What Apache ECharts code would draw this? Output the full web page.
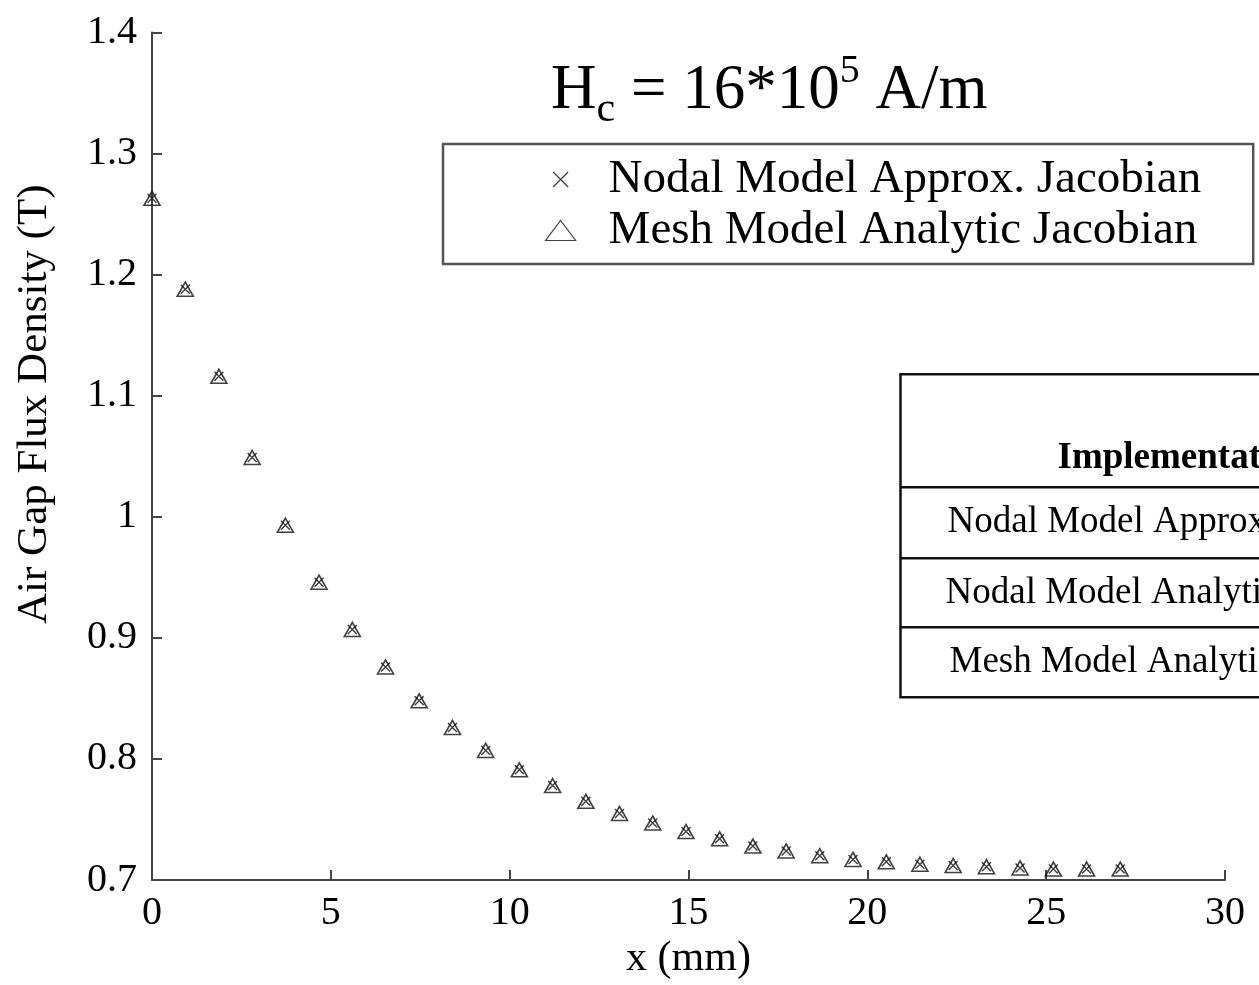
<!DOCTYPE html>
<html>
<head>
<meta charset="utf-8">
<script src="https://cdn.jsdelivr.net/npm/echarts@6/dist/echarts.min.js"></script>
<style>
html,body{margin:0;padding:0;background:#fff;}
#chart{width:1259px;height:985px;}
</style>
</head>
<body>
<div id="chart"></div>
<script>
// ---- data ----
const xValues = [0, 0.93, 1.87, 2.8, 3.73, 4.67, 5.6, 6.53, 7.47, 8.4,
                 9.33, 10.27, 11.2, 12.13, 13.07, 14, 14.93, 15.87, 16.8, 17.73,
                 18.67, 19.6, 20.53, 21.47, 22.4, 23.33, 24.27, 25.2, 26.13, 27.07];
const nodalApprox = [1.263, 1.188, 1.116, 1.049, 0.993, 0.946, 0.907, 0.876, 0.848, 0.826,
                     0.807, 0.791, 0.778, 0.765, 0.755, 0.747, 0.740, 0.734, 0.728, 0.724,
                     0.720, 0.717, 0.715, 0.713, 0.712, 0.711, 0.710, 0.709, 0.709, 0.709];
const meshAnalytic = [1.263, 1.188, 1.116, 1.049, 0.993, 0.946, 0.907, 0.876, 0.848, 0.826,
                      0.807, 0.791, 0.778, 0.765, 0.755, 0.747, 0.740, 0.734, 0.728, 0.724,
                      0.720, 0.717, 0.715, 0.713, 0.712, 0.711, 0.710, 0.709, 0.709, 0.709];
const seriesNames = ['Nodal Model Approx. Jacobian', 'Mesh Model Analytic Jacobian'];
const tableHeader = 'Implementation';
const tableRows = ['Nodal Model Approx. Jacobian', 'Nodal Model Analytic Jacobian', 'Mesh Model Analytic Jacobian'];
const xName = 'x (mm)';
const yName = 'Air Gap Flux Density (T)';

const FONT = '"Liberation Serif", "Times New Roman", serif';
const chart = echarts.init(document.getElementById('chart'));

const axisColor = '#444';
const crossPath = 'path://M0,0L10,10M10,0L0,10';
const option = {
  backgroundColor: '#fff',
  animation: false,
  title: {
    left: 546, top: 46,
    text: '{h|H}{sub|c}{h| = 16*10}{sup|5}{h| A/m}',
    textStyle: {
      fontWeight: 'normal',
      rich: {
        h: {fontFamily: FONT, fontSize: 63, fontWeight: 'normal', color: '#000', lineHeight: 80, verticalAlign: 'middle'},
        sub: {fontFamily: FONT, fontSize: 42, fontWeight: 'normal', color: '#000', lineHeight: 40, verticalAlign: 'bottom'},
        sup: {fontFamily: FONT, fontSize: 40, fontWeight: 'normal', color: '#000', lineHeight: 44, verticalAlign: 'top'}
      }
    }
  },
  legend: {
    left: 443, top: 144,
    orient: 'vertical',
    data: [
      {name: seriesNames[0], icon: 'path://M0,0L0,0M3,3L21,21M21,3L3,21M24,24L24,24'},
      {name: seriesNames[1]}
    ],
    backgroundColor: '#fff',
    borderColor: '#555',
    borderWidth: 2.5,
    borderRadius: 0,
    padding: [10, 52, 8, 102],
    itemGap: 0,
    itemWidth: 30,
    itemHeight: 20,
    selectedMode: false,
    itemStyle: {borderWidth: 1.2},
    textStyle: {fontFamily: FONT, fontSize: 47, color: '#000', lineHeight: 51, padding: [0, 0, 0, 28]}
  },
  grid: {left: 152, right: 34, top: 32.5, bottom: 103, containLabel: false},
  xAxis: {
    type: 'value', min: 0, max: 30, interval: 5,
    name: xName, nameLocation: 'middle', nameGap: 58,
    nameTextStyle: {fontFamily: FONT, fontSize: 42, color: '#000'},
    axisLine: {show: true, onZero: false, lineStyle: {color: axisColor, width: 2}},
    axisTick: {show: true, inside: true, length: 10, lineStyle: {color: axisColor, width: 2}},
    axisLabel: {fontFamily: FONT, fontSize: 40, color: '#000', margin: 13},
    splitLine: {show: false}
  },
  yAxis: {
    type: 'value', min: 0.7, max: 1.4, interval: 0.1,
    name: yName, nameLocation: 'middle', nameGap: 96,
    nameTextStyle: {fontFamily: FONT, fontSize: 43, color: '#000', padding: [0, 0, 0, 104]},
    axisLine: {show: true, onZero: false, lineStyle: {color: axisColor, width: 2}},
    axisTick: {show: true, inside: true, length: 10, lineStyle: {color: axisColor, width: 2}},
    axisLabel: {fontFamily: FONT, fontSize: 40, color: '#000', margin: 15,
      formatter: v => String(+v.toFixed(1))},
    splitLine: {show: false}
  },
  series: [
    {
      name: seriesNames[0], type: 'scatter',
      symbol: crossPath, symbolSize: 9,
      itemStyle: {color: 'rgba(0,0,0,0)', borderColor: '#111', borderWidth: 1.4},
      data: xValues.map((x, i) => [x, nodalApprox[i]]), z: 3
    },
    {
      name: seriesNames[1], type: 'scatter',
      symbol: 'triangle', symbolSize: [16, 14],
      itemStyle: {color: 'rgba(0,0,0,0)', borderColor: '#111', borderWidth: 1.6},
      data: xValues.map((x, i) => [x, meshAnalytic[i]]), z: 2
    }
  ],
  graphic: [
    {
      type: 'group', left: 898, top: 373, z: 100,
      children: [
        {type: 'rect', shape: {x: 0, y: 0, width: 700, height: 323},
         style: {fill: '#fff', stroke: '#111', lineWidth: 2.5}},
        {type: 'line', shape: {x1: 0, y1: 113, x2: 700, y2: 113}, style: {stroke: '#111', lineWidth: 2.5}},
        {type: 'line', shape: {x1: 0, y1: 184, x2: 700, y2: 184}, style: {stroke: '#111', lineWidth: 2.5}},
        {type: 'line', shape: {x1: 0, y1: 253, x2: 700, y2: 253}, style: {stroke: '#111', lineWidth: 2.5}},
        {type: 'text', x: 157, y: 84, style: {text: tableHeader, font: 'bold 37px ' + FONT, fill: '#000', textVerticalAlign: 'middle'}},
        {type: 'text', x: 47, y: 148, style: {text: tableRows[0], font: '37px ' + FONT, fill: '#000', textVerticalAlign: 'middle'}},
        {type: 'text', x: 45, y: 219, style: {text: tableRows[1], font: '37px ' + FONT, fill: '#000', textVerticalAlign: 'middle'}},
        {type: 'text', x: 49, y: 288, style: {text: tableRows[2], font: '37px ' + FONT, fill: '#000', textVerticalAlign: 'middle'}}
      ]
    }
  ]
};
chart.setOption(option);
</script>
</body>
</html>
